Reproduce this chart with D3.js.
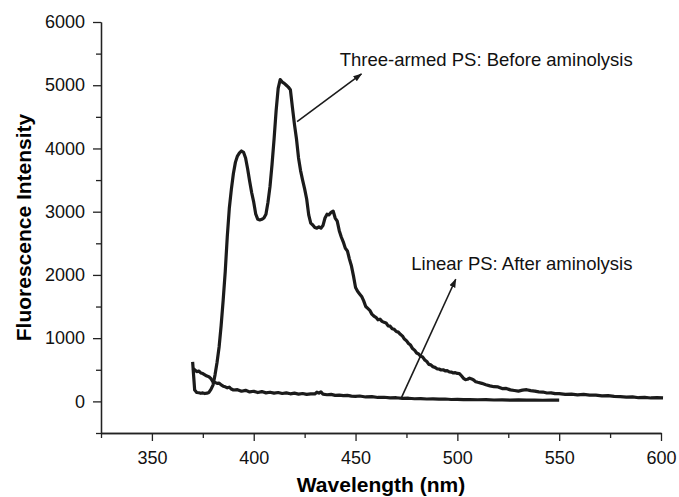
<!DOCTYPE html>
<html>
<head>
<meta charset="utf-8">
<script src="https://cdnjs.cloudflare.com/ajax/libs/d3/7.8.5/d3.min.js"></script>
<style>
  body { margin: 0; background: #fff; }
  svg { display: block; font-family: "Liberation Sans", Arial, sans-serif; }
  .axis path, .axis line { stroke: #222; stroke-width: 1.3; }
  .axis text { font-size: 18px; fill: #111; font-family: "Liberation Sans", Arial, sans-serif; }
</style>
</head>
<body>
<div id="chart"></div>
<script>
// three-armed PS, before aminolysis: [wavelength (nm), intensity]
var threeArmed = [
  [370, 626], [370.5, 400], [371, 179], [372, 140], [373, 136], [374, 128], [375, 134], [376, 124],
  [377, 130], [378, 142], [379, 190], [380, 258], [381, 420], [382, 620], [383, 860], [384, 1200],
  [385, 1600], [386, 2050], [387, 2600], [388, 3050], [389, 3350], [390, 3600], [391, 3780], [392, 3880],
  [393, 3930], [394, 3960], [395, 3940], [396, 3850], [397, 3680], [398, 3480], [399, 3300], [400, 3150],
  [401, 2960], [402, 2880], [403, 2870], [404, 2880], [405, 2900], [406, 2960], [407, 3150], [408, 3400],
  [409, 3750], [410, 4150], [411, 4600], [412, 4950], [413, 5090], [414, 5050], [415, 5030], [416, 5000],
  [417, 4970], [418, 4930], [419, 4650], [420, 4380], [421, 4150], [422, 3850], [423, 3650], [424, 3500],
  [425, 3360], [426, 3200], [427, 2950], [428, 2820], [429, 2790], [430, 2750], [431, 2740], [432, 2760],
  [433, 2740], [434, 2780], [435, 2900], [436, 2960], [437, 2950], [438, 2990], [439, 3010], [440, 2900],
  [441, 2850], [442, 2700], [443, 2600], [444, 2520], [445, 2420], [446, 2380], [447, 2250], [448, 2140],
  [449, 1980], [450, 1800], [451, 1740], [452, 1700], [453, 1660], [454, 1590], [455, 1500], [456, 1470],
  [457, 1440], [458, 1380], [459, 1350], [460, 1330], [461, 1290], [462, 1300], [463, 1265], [464, 1250],
  [465, 1240], [466, 1195], [467, 1190], [468, 1150], [469, 1140], [470, 1105], [471, 1095], [472, 1060],
  [473, 1035], [474, 985], [475, 960], [476, 915], [477, 890], [478, 835], [479, 810], [480, 765],
  [481, 750], [482, 712], [483, 700], [484, 655], [485, 630], [486, 585], [487, 578], [488, 548],
  [489, 538], [490, 515], [491, 512], [492, 496], [493, 500], [494, 484], [495, 486], [496, 468],
  [497, 464], [498, 450], [499, 455], [500, 442], [501, 440], [502, 405], [503, 365], [504, 345],
  [505, 350], [506, 368], [507, 355], [508, 338], [509, 312], [510, 302], [512, 285], [514, 262],
  [516, 245], [518, 232], [520, 228], [522, 203], [524, 205], [526, 182], [528, 172], [530, 163],
  [532, 178], [534, 185], [536, 170], [538, 162], [540, 150], [542, 148], [544, 133], [546, 135],
  [548, 122], [550, 124], [553, 110], [556, 114], [559, 102], [562, 110], [565, 98], [568, 100],
  [571, 88], [574, 90], [577, 78], [580, 76], [583, 68], [586, 70], [589, 58], [592, 64],
  [595, 54], [598, 60], [601, 56]
];

// linear PS, after aminolysis
var linear = [
  [370, 522], [371, 500], [372, 470], [373, 480], [374, 450], [375, 440], [376, 420], [377, 400],
  [378, 390], [379, 360], [380, 310], [381, 300], [382, 285], [383, 290], [384, 260], [385, 240],
  [386, 230], [387, 215], [388, 225], [389, 195], [390, 180], [392, 185], [394, 160], [396, 175],
  [398, 150], [400, 160], [402, 140], [404, 155], [406, 135], [408, 145], [410, 130], [412, 140],
  [414, 125], [416, 135], [418, 120], [420, 130], [422, 115], [424, 125], [426, 110], [428, 120],
  [430, 118], [431, 145], [432, 130], [433, 150], [434, 115], [436, 105], [438, 110], [440, 95],
  [442, 100], [444, 90], [446, 95], [448, 84], [450, 80], [452, 85], [455, 70], [458, 75],
  [461, 62], [464, 65], [467, 55], [470, 58], [473, 47], [476, 50], [479, 42], [482, 45],
  [485, 38], [488, 40], [491, 35], [494, 38], [497, 30], [500, 32], [503, 28], [506, 30],
  [510, 26], [514, 28], [518, 22], [522, 25], [526, 20], [530, 24], [534, 20], [538, 22],
  [542, 18], [546, 22], [550, 20]
];

var xMajor = [350, 400, 450, 500, 550, 600];
var xMinor = [325, 375, 425, 475, 525, 575];
var yMajor = [0, 1000, 2000, 3000, 4000, 5000, 6000];
var yMinor = [-500, 500, 1500, 2500, 3500, 4500, 5500];

// annotations: label, label anchor, arrow start, arrow tip (data units)
var labels = [
  { text: 'Three-armed PS: Before aminolysis', at: [442.2, 5304], from: [421.3, 4423], to: [452.9, 5178] },
  { text: 'Linear PS: After aminolysis', at: [477.4, 2078], from: [472.6, 63], to: [499.2, 1931] }
];

var width = 679, height = 497;
var margin = { top: 22, right: 18, bottom: 64, left: 101 };

var svg = d3.select('#chart').append('svg')
  .attr('width', width)
  .attr('height', height);

var x = d3.scaleLinear().domain([325, 600]).range([margin.left, width - margin.right]);
var y = d3.scaleLinear().domain([-500, 6000]).range([height - margin.bottom, margin.top]);

// minor ticks first, major axis on top
svg.append('g')
  .attr('class', 'axis')
  .attr('transform', 'translate(0,' + (height - margin.bottom) + ')')
  .call(d3.axisBottom(x).tickValues(xMinor).tickSize(5).tickSizeOuter(0).tickFormat(''));

svg.append('g')
  .attr('class', 'axis')
  .attr('transform', 'translate(0,' + (height - margin.bottom) + ')')
  .call(d3.axisBottom(x).tickValues(xMajor).tickSize(8).tickPadding(10).tickSizeOuter(0).tickFormat(d3.format('d')));

svg.append('g')
  .attr('class', 'axis')
  .attr('transform', 'translate(' + margin.left + ',0)')
  .call(d3.axisLeft(y).tickValues(yMinor).tickSize(5).tickSizeOuter(0).tickFormat(''));

svg.append('g')
  .attr('class', 'axis')
  .attr('transform', 'translate(' + margin.left + ',0)')
  .call(d3.axisLeft(y).tickValues(yMajor).tickSize(8).tickPadding(8).tickSizeOuter(0).tickFormat(d3.format('d')));

// axis titles
svg.append('text')
  .attr('x', (x.range()[0] + x.range()[1]) / 2)
  .attr('y', 492)
  .attr('text-anchor', 'middle')
  .style('font-size', '21px')
  .style('font-weight', 'bold')
  .text('Wavelength (nm)');

svg.append('text')
  .attr('transform', 'translate(31,' + ((y.range()[0] + y.range()[1]) / 2) + ') rotate(-90)')
  .attr('text-anchor', 'middle')
  .style('font-size', '21px')
  .style('font-weight', 'bold')
  .text('Fluorescence Intensity');

// spectra
var line = d3.line()
  .x(function (d) { return x(d[0]); })
  .y(function (d) { return y(d[1]); });

[linear, threeArmed].forEach(function (s) {
  svg.append('path')
    .datum(s)
    .attr('fill', 'none')
    .attr('stroke', '#1b1b1b')
    .attr('stroke-width', 3.2)
    .attr('stroke-linejoin', 'round')
    .attr('d', line);
});

// arrow marker
svg.append('defs').append('marker')
  .attr('id', 'head')
  .attr('viewBox', '0 0 10 10')
  .attr('refX', 9)
  .attr('refY', 5)
  .attr('markerWidth', 9)
  .attr('markerHeight', 9)
  .attr('markerUnits', 'userSpaceOnUse')
  .attr('orient', 'auto')
  .append('path')
  .attr('d', 'M0,1.5 L10,5 L0,8.5 Z')
  .attr('fill', '#1b1b1b');

labels.forEach(function (l) {
  svg.append('line')
    .attr('x1', x(l.from[0]))
    .attr('y1', y(l.from[1]))
    .attr('x2', x(l.to[0]))
    .attr('y2', y(l.to[1]))
    .attr('stroke', '#1b1b1b')
    .attr('stroke-width', 1.6)
    .attr('marker-end', 'url(#head)');
  svg.append('text')
    .attr('x', x(l.at[0]))
    .attr('y', y(l.at[1]))
    .style('font-size', '18.5px')
    .style('fill', '#111')
    .text(l.text);
});
</script>
</body>
</html>
